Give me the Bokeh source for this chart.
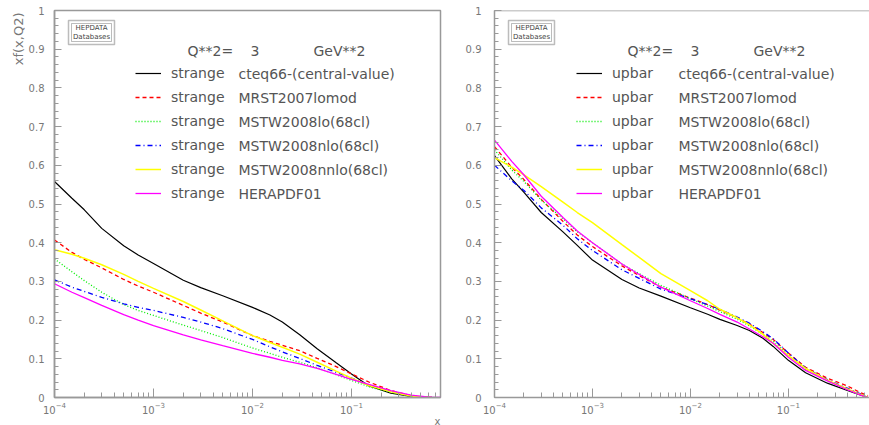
import math
from bokeh.plotting import figure
from bokeh.layouts import row
from bokeh.models import (Range1d, Label, Legend, LegendItem, BoxAnnotation, Span, Title,
                          SingleIntervalTicker, LogTicker, CustomJSTickFormatter)
from bokeh.embed import file_html
from bokeh.resources import INLINE

# ---------------- data: x*f(x, Q^2) at Q^2 = 3 GeV^2 ----------------
x_strange = [1e-4, 1.5e-4, 2e-4, 3e-4, 5e-4, 7e-4, 1e-3, 2e-3, 3e-3, 5e-3, 1e-2,
             1.5e-2, 2e-2, 3e-2, 4.5e-2, 7e-2, 0.1, 0.15, 0.25, 0.4, 0.55, 0.65]
strange_cteq66 = [0.558, 0.515, 0.485, 0.437, 0.392, 0.368, 0.346, 0.303, 0.284, 0.263, 0.233,
                  0.213, 0.195, 0.162, 0.126, 0.090, 0.061, 0.030, 0.011, 0.003, 0.001, 0.0]
strange_mrst2007 = [0.407, 0.375, 0.357, 0.335, 0.305, 0.288, 0.272, 0.238, 0.218, 0.195, 0.160,
                    0.145, 0.135, 0.121, 0.101, 0.080, 0.061, 0.040, 0.018, 0.005, 0.001, 0.0]
strange_mstw_lo = [0.358, 0.325, 0.302, 0.272, 0.240, 0.225, 0.212, 0.187, 0.173, 0.155, 0.128,
                   0.114, 0.104, 0.091, 0.077, 0.059, 0.044, 0.028, 0.013, 0.003, 0.001, 0.0]
strange_mstw_nlo = [0.304, 0.285, 0.274, 0.259, 0.242, 0.233, 0.225, 0.207, 0.195, 0.178, 0.150,
                    0.131, 0.118, 0.101, 0.083, 0.065, 0.050, 0.032, 0.015, 0.004, 0.001, 0.0]
strange_mstw_nnlo = [0.382, 0.370, 0.360, 0.343, 0.318, 0.300, 0.282, 0.248, 0.226, 0.198, 0.160,
                     0.142, 0.130, 0.112, 0.091, 0.068, 0.050, 0.031, 0.015, 0.004, 0.001, 0.0]
x_strange_hera = x_strange + [0.79]
strange_herapdf = [0.294, 0.272, 0.258, 0.238, 0.214, 0.200, 0.186, 0.162, 0.149, 0.134, 0.114,
                   0.104, 0.096, 0.087, 0.075, 0.060, 0.047, 0.034, 0.018, 0.006, 0.002, 0.001, 0.0]

x_upbar = [1e-4, 1.5e-4, 2e-4, 3e-4, 5e-4, 7e-4, 1e-3, 2e-3, 3e-3, 5e-3, 1e-2, 1.5e-2,
           2e-2, 3e-2, 4e-2, 5.5e-2, 7e-2, 0.1, 0.15, 0.25, 0.4, 0.55, 0.65]
upbar_cteq66 = [0.625, 0.565, 0.530, 0.478, 0.428, 0.393, 0.355, 0.305, 0.283, 0.262, 0.232, 0.215,
                0.202, 0.186, 0.173, 0.153, 0.132, 0.096, 0.064, 0.037, 0.018, 0.006, 0.0]
upbar_mrst2007 = [0.648, 0.595, 0.563, 0.512, 0.455, 0.420, 0.390, 0.340, 0.315, 0.285, 0.257, 0.240,
                  0.226, 0.206, 0.190, 0.168, 0.150, 0.115, 0.078, 0.050, 0.030, 0.012, 0.005]
upbar_mstw_lo = [0.640, 0.588, 0.558, 0.510, 0.462, 0.428, 0.400, 0.345, 0.320, 0.290, 0.255, 0.236,
                 0.222, 0.202, 0.185, 0.163, 0.145, 0.110, 0.072, 0.044, 0.022, 0.008, 0.0]
upbar_mstw_nlo = [0.600, 0.560, 0.535, 0.490, 0.445, 0.410, 0.380, 0.330, 0.308, 0.280, 0.255, 0.240,
                  0.228, 0.208, 0.192, 0.170, 0.152, 0.115, 0.076, 0.046, 0.024, 0.009, 0.0]
upbar_mstw_nnlo = [0.620, 0.595, 0.575, 0.545, 0.505, 0.478, 0.452, 0.395, 0.362, 0.320, 0.276, 0.250,
                   0.228, 0.206, 0.188, 0.163, 0.140, 0.108, 0.075, 0.045, 0.022, 0.007, 0.0]
upbar_herapdf = [0.665, 0.610, 0.575, 0.520, 0.465, 0.430, 0.400, 0.345, 0.318, 0.285, 0.250, 0.230,
                 0.215, 0.195, 0.177, 0.157, 0.140, 0.104, 0.070, 0.043, 0.020, 0.006, 0.0]

model_names = ["cteq66-(central-value)", "MRST2007lomod", "MSTW2008lo(68cl)",
               "MSTW2008nlo(68cl)", "MSTW2008nnlo(68cl)", "HERAPDF01"]
line_colors = ["#000000", "#ff0000", "#00ee00", "#0000ff", "#ffff00", "#ff00ff"]
line_dashes = ["solid", "4 3", "1 2", "5 3 1 3", "solid", "solid"]
line_widths = [1.2, 1.3, 1.3, 1.3, 1.5, 1.3]

FONT = "DejaVu Sans"
AXIS_GREY = "#999999"
TICK_TEXT = "#777777"
TEXT = "#555555"


def make_panel(width, border_left, border_right, x_end, tick_standoff, outline):
    p = figure(width=width, height=425, x_axis_type="log",
               x_range=Range1d(1e-4, x_end), y_range=Range1d(0, 1),
               output_backend="svg", toolbar_location=None,
               min_border_left=border_left, min_border_right=border_right,
               min_border_top=10, min_border_bottom=28)
    p.background_fill_color = "white"
    p.border_fill_color = "white"
    p.xgrid.visible = False
    p.ygrid.visible = False
    p.outline_line_color = AXIS_GREY if outline else None
    p.outline_line_width = 1.5

    p.xaxis.ticker = LogTicker(num_minor_ticks=10)
    p.yaxis.ticker = SingleIntervalTicker(interval=0.1, num_minor_ticks=5)
    p.yaxis.formatter = CustomJSTickFormatter(
        code="const s = tick.toFixed(1); return s.endsWith('.0') ? s.slice(0, -2) : s;")
    for ax in (p.xaxis[0], p.yaxis[0]):
        ax.axis_line_color = AXIS_GREY
        ax.axis_line_width = 1.5
        ax.major_tick_line_color = AXIS_GREY
        ax.minor_tick_line_color = AXIS_GREY
        ax.major_tick_out = 0
        ax.minor_tick_out = 0
        ax.major_label_text_font = FONT
        ax.major_label_text_font_size = "10px"
        ax.major_label_text_color = TICK_TEXT
    p.xaxis.major_tick_in = 9
    p.xaxis.minor_tick_in = 5
    p.yaxis.major_tick_in = 7
    p.yaxis.minor_tick_in = 4
    p.xaxis.major_label_standoff = 4
    p.yaxis.major_label_standoff = tick_standoff
    if not outline:
        # top edge of the frame
        p.add_layout(Span(location=1.0, dimension="width", line_color=AXIS_GREY, line_width=1.5))

    # HEPDATA stamp
    p.add_layout(BoxAnnotation(left=14, right=60, bottom=353, top=377,
                               left_units="screen", right_units="screen",
                               bottom_units="screen", top_units="screen",
                               fill_color="white", fill_alpha=1.0,
                               line_color="#222222", line_width=1.5))
    p.add_layout(BoxAnnotation(left=17, right=57, bottom=356, top=374,
                               left_units="screen", right_units="screen",
                               bottom_units="screen", top_units="screen",
                               fill_alpha=0.0, line_color="#222222", line_width=1))
    for txt, yy in (("HEPDATA", 369.5), ("Databases", 360.5)):
        p.add_layout(Label(x=37, y=yy, x_units="screen", y_units="screen", text=txt,
                           text_align="center", text_baseline="middle",
                           text_font=FONT, text_font_size="7px", text_color="#444444"))
    return p


def add_curves(p, xs_list, ys_list, parton, legend_x):
    items = []
    for i, (xs, ys) in enumerate(zip(xs_list, ys_list)):
        r = p.line(xs, ys, line_color=line_colors[i], line_dash=line_dashes[i],
                   line_width=line_widths[i])
        items.append(LegendItem(label=parton, renderers=[r]))
    # legend location is the bottom-left corner of its box, in frame pixels
    leg = Legend(items=items, location=(legend_x, 194), padding=0, margin=0,
                 spacing=4, glyph_width=26, glyph_height=20, label_height=20,
                 label_standoff=10, border_line_color=None, background_fill_alpha=0.0,
                 label_text_font=FONT, label_text_font_size="14px",
                 label_text_color=TEXT)
    p.add_layout(leg)
    for i, name in enumerate(model_names):
        p.add_layout(Label(x=184, y=324 - 24 * i, x_units="screen", y_units="screen",
                           text=name, text_baseline="middle", text_font=FONT,
                           text_font_size="14px", text_color=TEXT))
    for txt, xx in (("Q**2=", 133), ("3", 196), ("GeV**2", 259)):
        p.add_layout(Label(x=xx, y=347, x_units="screen", y_units="screen", text=txt,
                           text_baseline="middle", text_font=FONT,
                           text_font_size="14px", text_color=TEXT))


# left panel: strange
left = make_panel(462, 54, 22, 10 ** (-4 + 386 / 99), 10, True)
add_curves(left,
           [x_strange] * 5 + [x_strange_hera],
           [strange_cteq66, strange_mrst2007, strange_mstw_lo,
            strange_mstw_nlo, strange_mstw_nnlo, strange_herapdf],
           "strange", 81)
left.add_layout(Title(text="xf(x,Q2)", align="right", offset=2, standoff=0,
                      text_font=FONT, text_font_size="13px", text_font_style="normal",
                      text_color=TICK_TEXT), "left")
left.add_layout(Title(text="x", align="right", offset=0, standoff=-6,
                      text_font=FONT, text_font_size="10px", text_font_style="normal",
                      text_color=TICK_TEXT), "below")

# right panel: upbar
right = make_panel(407, 28, 0, 10 ** (-4 + 379 / 99), 13, False)
add_curves(right,
           [x_upbar] * 6,
           [upbar_cteq66, upbar_mrst2007, upbar_mstw_lo,
            upbar_mstw_nlo, upbar_mstw_nnlo, upbar_herapdf],
           "upbar", 82)

layout = row(left, right)
open("out.html", "w").write(file_html(layout, INLINE))
